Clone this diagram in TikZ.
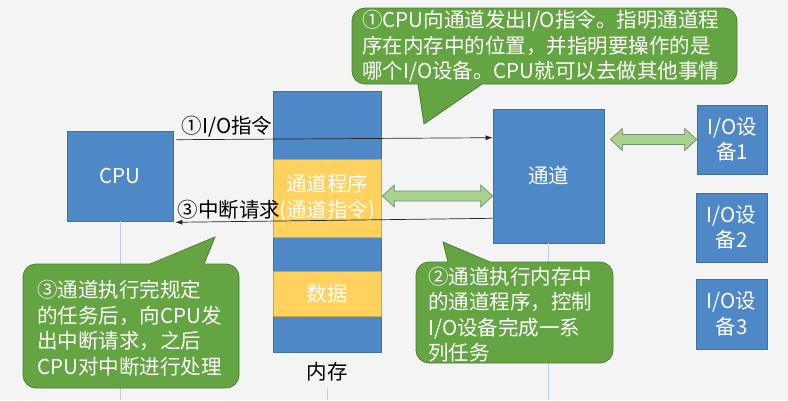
\documentclass[tikz,border=0pt]{standalone}
\usepackage{fontspec}
\setmainfont{Noto Sans CJK SC}
\usetikzlibrary{arrows.meta,calc}
\definecolor{bg}{HTML}{F4F4F4}
\definecolor{boxblue}{HTML}{4F88C6}
\definecolor{boxedge}{HTML}{41719C}
\definecolor{memyel}{HTML}{FFD15E}
\definecolor{yeledge}{HTML}{C9A74A}
\definecolor{callg}{HTML}{65A443}
\definecolor{calledge}{HTML}{4E7D31}
\definecolor{arrg}{HTML}{A9D18E}
\definecolor{arredge}{HTML}{6F8F6F}
\definecolor{guide}{HTML}{BCCDE6}
\newcommand\dblarrowpath[2]{%
  \draw[dblarr] (#1) -- ++(12,-11) -- ++(0,6) -- ($(#2)+(-12,-5)$) -- ++(0,-6) -- (#2)
    -- ++(-12,11) -- ++(0,-6) -- ($(#1)+(12,5)$) -- ++(0,6) -- cycle;}
\begin{document}
\begin{tikzpicture}[x=1pt,y=-1pt,
  txt/.style={font=\fontsize{20.5}{25.5}\selectfont},
  bluebox/.style={draw=boxedge,line width=0.6pt,fill=boxblue,text=white,txt,inner sep=0pt,align=center},
  yelbox/.style={draw=yeledge,line width=0.6pt,fill=memyel,text=white,txt,inner sep=0pt,align=center},
  calloutbox/.style={fill=callg,draw=calledge,line width=0.8pt,rounded corners=13pt},
  callouttip/.style={fill=callg},
  calloutedge/.style={draw=calledge,line width=0.8pt},
  callouttext/.style={txt,text=white,align=left,inner sep=0pt,anchor=west},
  label/.style={txt,text=black,inner sep=0pt},
  arr/.style={draw=black!85,line width=0.7pt,-{Latex[length=7pt,width=5pt]}},
  dblarr/.style={fill=arrg,draw=arredge,line width=0.7pt},
  guideline/.style={draw=guide,line width=0.8pt}]
\fill[bg] (0,0) rectangle (788,400);
\useasboundingbox (0,0) rectangle (788,400);

% boxes
\node[bluebox,minimum width=106pt,minimum height=90pt] (cpu) at (120,176) {CPU};
\node[bluebox,minimum width=108pt,minimum height=261pt] (mem) at (327,221.5) {};
\node[yelbox,minimum width=108pt,minimum height=78pt] (prog) at (327,198) {通道程序\\(通道指令)};
\node[yelbox,minimum width=108pt,minimum height=45pt] (data) at (327,293.5) {数据};
\node[label] (memlab) at (327,372) {内存};
\node[bluebox,minimum width=111pt,minimum height=134pt] (chan) at (548.5,176) {通道};
\node[bluebox,minimum width=70pt,minimum height=69pt] (io1) at (732,139.5) {I/O设\\备1};
\node[bluebox,minimum width=71pt,minimum height=69pt] (io2) at (731.5,227.5) {I/O设\\备2};
\node[bluebox,minimum width=71pt,minimum height=70pt] (io3) at (731.5,314) {I/O设\\备3};

% guide lines
\draw[guideline] (cpu.south) -- (cpu.south |- 0,400);
\draw[guideline] (chan.south) -- (chan.south |- 0,400);
\draw[guideline] (327,388) -- (327,400);

% connectors
\draw[arr] ([xshift=3pt,yshift=-9pt]cpu.north east) -- ([yshift=-29pt]chan.north west);
\node[label] (l1) at (227,127) {①I/O指令};
\draw[arr] ([yshift=25pt]chan.south west) -- ([xshift=2pt,yshift=-1pt]cpu.south east);
\node[label] (l3) at (229,210) {③中断请求};

\coordinate (a1l) at ([xshift=1pt,yshift=2pt]prog.east);
\coordinate (a1r) at (chan.west |- a1l);
\dblarrowpath{a1l}{a1r}
\coordinate (a2l) at ([xshift=6pt]chan.east |- io1.west);
\coordinate (a2r) at (io1.west);
\dblarrowpath{a2l}{a2r}

% callout 1
\draw[calloutbox] (352,8) rectangle (737,84);
\fill[callouttip] (417.6,81) -- (424,124) -- (486.5,81) -- cycle;
\draw[calloutedge] (418,84) -- (424,124) -- (482,84);
\node[callouttext] (c1) at (362,46.5) {①CPU向通道发出I/O指令。指明通道程\\序在内存中的位置，并指明要操作的是\\哪个I/O设备。CPU就可以去做其他事情};

% callout 3
\draw[calloutbox] (23,264) rectangle (239,388);
\fill[callouttip] (144,267) -- (215,237) -- (202.8,267) -- cycle;
\draw[calloutedge] (150,264) -- (215,237) -- (204,264);
\node[callouttext] (c3) at (37,328) {③通道执行完规定\\的任务后，向CPU发\\出中断请求，之后\\CPU对中断进行处理};

% callout 2
\draw[calloutbox] (416,262) rectangle (613,363);
\fill[callouttip] (448.8,266) -- (443,242) -- (499,266) -- cycle;
\draw[calloutedge] (448,262) -- (443,242) -- (490,262);
\node[callouttext] (c2) at (428,314.5) {②通道执行内存中\\的通道程序，控制\\I/O设备完成一系\\列任务};
\end{tikzpicture}
\end{document}
